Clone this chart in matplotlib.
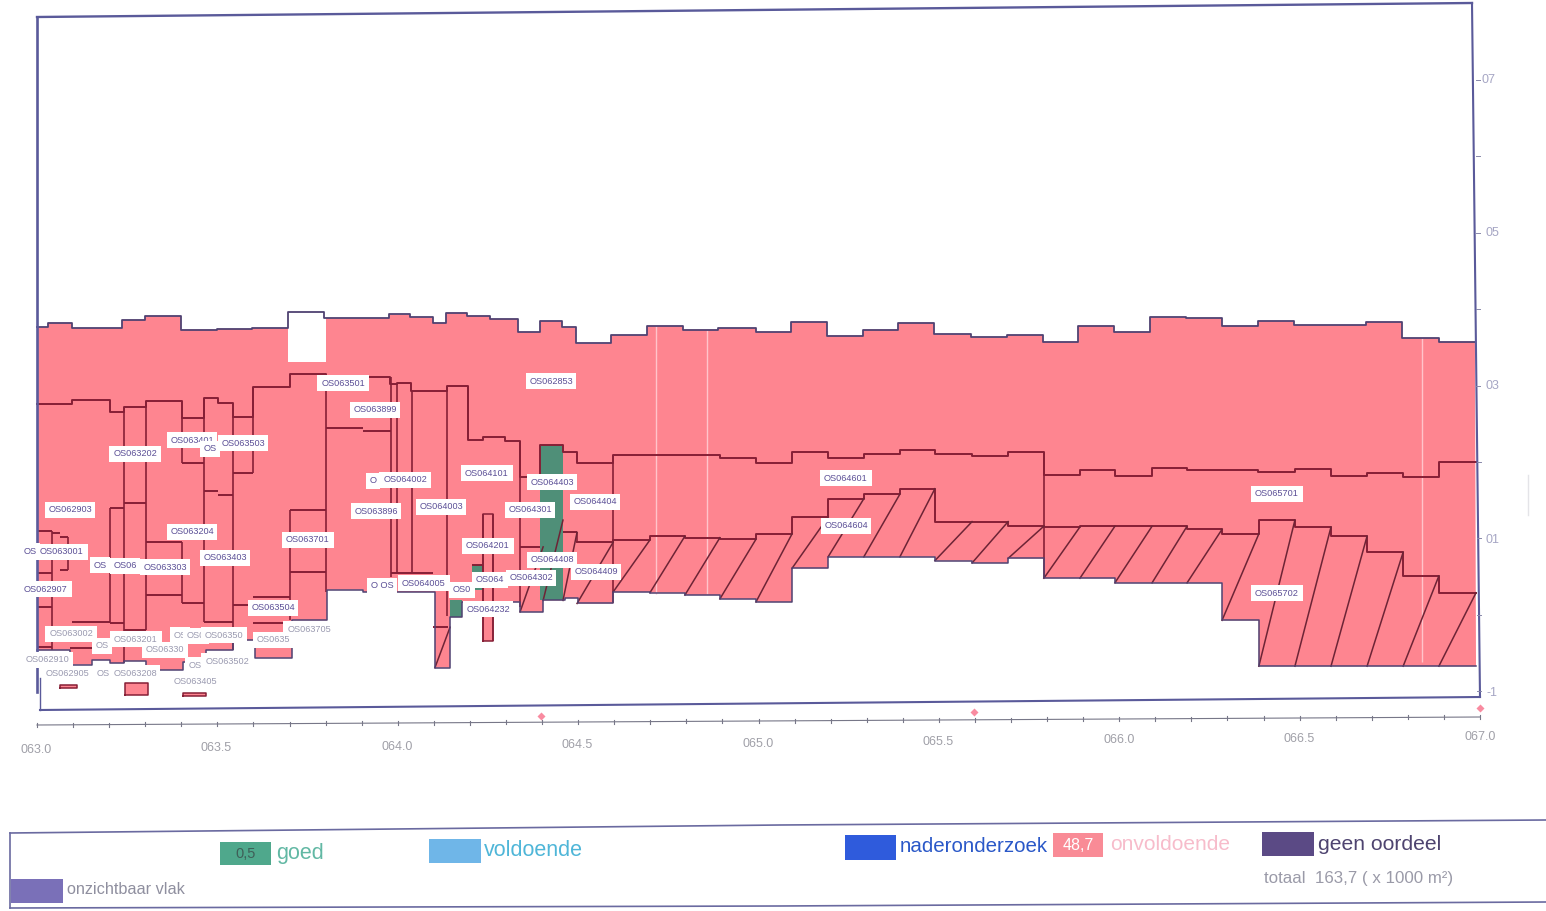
import numpy as np
import matplotlib
matplotlib.use('Agg')
import matplotlib.pyplot as plt
from matplotlib.lines import Line2D
from matplotlib.patches import Rectangle

plt.rcParams['font.family'] = ['Liberation Sans', 'DejaVu Sans']

# bovenkant / onderkant van het hele vlak (km, breedte in m)
top_km = [63.0, 63.03, 63.097, 63.236, 63.299, 63.399, 63.499, 63.596, 63.696, 63.796, 63.976, 64.034, 64.098,
          64.134, 64.192, 64.256, 64.333, 64.394, 64.455, 64.494, 64.591, 64.691, 64.791, 64.888, 64.993, 65.09,
          65.19, 65.29, 65.387, 65.487, 65.589, 65.689, 65.789, 65.886, 65.985, 66.085, 66.185, 66.285, 66.385,
          66.484, 66.684, 66.784, 66.886, 66.986]
top_val = [3.78, 3.84, 3.77, 3.88, 3.93, 3.75, 3.76, 3.77, 3.98, 3.90, 3.95, 3.91, 3.84, 3.97, 3.93, 3.89, 3.72,
           3.86, 3.78, 3.57, 3.68, 3.80, 3.75, 3.77, 3.72, 3.85, 3.67, 3.75, 3.84, 3.69, 3.65, 3.68, 3.59, 3.80,
           3.72, 3.91, 3.90, 3.80, 3.86, 3.81, 3.85, 3.64, 3.59]

bot_km = [63.0, 63.091, 63.152, 63.202, 63.241, 63.302, 63.405, 63.469, 63.543, 63.604, 63.707, 63.804, 63.904,
          64.103, 64.145, 64.178, 64.339, 64.403, 64.463, 64.499, 64.597, 64.699, 64.796, 64.893, 64.993, 65.093,
          65.193, 65.489, 65.592, 65.692, 65.791, 65.988, 66.285, 66.387, 66.989]
bot_val = [-0.44, -0.63, -0.57, -0.61, -0.58, -0.70, -0.60, -0.44, -0.31, -0.54, -0.05, 0.35, 0.32, -0.67, -0.01,
           0.19, 0.06, 0.21, 0.24, 0.17, 0.32, 0.31, 0.28, 0.23, 0.19, 0.63, 0.78, 0.73, 0.70, 0.76, 0.50, 0.44,
           -0.05, -0.65]

# tussenlijn tussen de rijstroken
mid_km = [63.0, 63.097, 63.202, 63.241, 63.302, 63.402, 63.463, 63.502, 63.543, 63.599, 63.701, 63.801, 63.978,
          63.998, 64.037, 64.137, 64.195, 64.236, 64.297, 64.339, 64.394, 64.458, 64.497, 64.597, 64.893, 64.993,
          65.093, 65.193, 65.292, 65.392, 65.489, 65.592, 65.692, 65.791, 65.891, 65.988, 66.091, 66.188, 66.385,
          66.487, 66.587, 66.687, 66.787, 66.886, 66.989]
mid_val = [2.78, 2.83, 2.67, 2.74, 2.82, 2.59, 2.86, 2.79, 2.61, 3.00, 3.17, 3.13, 3.04, 3.05, 2.95, 3.01, 2.31,
           2.35, 2.29, 1.82, 2.24, 2.15, 2.00, 2.11, 2.07, 2.01, 2.15, 2.07, 2.12, 2.18, 2.12, 2.10, 2.15, 1.85,
           1.91, 1.84, 1.94, 1.91, 1.89, 1.93, 1.84, 1.88, 1.82, 2.02]

# gearceerde vakken
arc_km = [64.339, 64.403, 64.458, 64.497, 64.597, 64.699, 64.796, 64.893, 64.993, 65.093, 65.193, 65.292, 65.392,
          65.489, 65.592, 65.692, 65.791, 65.891, 65.988, 66.091, 66.188, 66.285, 66.387, 66.487, 66.587, 66.687,
          66.787, 66.886, 66.989]
arc_top = [0.91, 1.26, 1.10, 0.97, 1.00, 1.05, 1.03, 1.01, 1.08, 1.30, 1.54, 1.60, 1.67, 1.24, 1.24, 1.18, 1.17,
           1.18, 1.18, 1.18, 1.14, 1.08, 1.26, 1.17, 1.05, 0.84, 0.53, 0.31]
arc_bot = [0.06, 0.21, 0.21, 0.17, 0.32, 0.31, 0.28, 0.23, 0.19, 0.63, 0.78, 0.78, 0.78, 0.73, 0.70, 0.76, 0.50,
           0.50, 0.44, 0.44, 0.44, -0.05, -0.65, -0.65, -0.65, -0.65, -0.65, -0.65]

# korte horizontale vaklijnen links
seg_x0 = [63.202, 63.241, 63.302, 63.402, 63.463, 63.502, 63.543, 63.701, 63.801, 63.904, 63.701, 63.302, 63.402,
          63.463, 63.543, 63.599, 63.097, 63.202, 63.241, 63.599, 63.0, 63.042, 63.064, 63.0, 63.064, 63.0, 63.0,
          63.091, 64.098, 64.206, 63.981, 64.339, 64.458]
seg_x1 = [63.241, 63.302, 63.402, 63.463, 63.502, 63.543, 63.599, 63.801, 63.904, 63.981, 63.801, 63.402, 63.463,
          63.543, 63.599, 63.701, 63.202, 63.241, 63.302, 63.707, 63.042, 63.064, 63.086, 63.042, 63.086, 63.042,
          63.042, 63.152, 64.139, 64.236, 64.098, 64.394, 64.497]
seg_y = [1.42, 1.48, 0.97, 2.01, 1.64, 1.59, 1.88, 1.39, 2.46, 2.42, 0.58, 0.28, 0.17, -0.07, 0.15, 0.25, -0.07,
         -0.09, -0.18, -0.09, 1.12, 1.09, 1.04, 0.57, 0.61, 0.12, -0.40, -0.41, -0.14, 0.67, 0.57, 0.91, 1.10]

# verticale vaklijnen
wand_x = [63.202, 63.241, 63.302, 63.402, 63.402, 63.463, 63.543, 63.599, 63.701, 63.801, 63.981, 63.998, 64.04,
          64.137, 64.195, 64.339, 64.597, 65.791, 63.042, 63.086, 64.264, 64.236, 64.497]
wand_top = [1.42, 2.67, 2.82, 2.59, 0.97, 2.86, 2.61, 3.00, 1.39, 3.17, 3.13, 3.05, 2.95, 3.01, 3.01, 2.29, 2.00,
            2.15, 1.12, 1.04, 1.34, 1.34, 1.10]
wand_bot = [-0.09, -0.61, -0.18, 2.01, 0.17, -0.07, -0.44, 1.88, -0.05, 0.32, 0.52, 0.57, 0.57, 0.01, 2.31, 0.12,
            0.17, 0.50, -0.44, 0.61, -0.32, -0.32, 0.97]

# losse rode vakken en groene (goed) vakken
los_x0 = [64.236, 63.244, 63.064, 63.405]
los_x1 = [64.264, 63.308, 63.11, 63.469]
los_top = [1.34, -0.87, -0.90, -1.0]
los_bot = [-0.32, -1.03, -0.94, -1.04]
goed_x0 = [64.394, 64.206, 64.145]
goed_x1 = [64.458, 64.236, 64.178]
goed_top = [2.24, 0.67, 0.21]
goed_bot = [0.21, 0.34, -0.01]

# roze meetpunten onder de grafiek
punt_km = [64.397, 65.597, 67.0]
punt_y = [-1.30, -1.25, -1.20]

x_ticklabels = ['063.0', '063.5', '064.0', '064.5', '065.0', '065.5', '066.0', '066.5', '067.0']
y_ticklabels = ['07', '05', '03', '01', '-1']

namen = ['OS063001', 'OS', 'OS062907', 'OS062903', 'OS063202', 'OS063401', 'OS', 'OS063503', 'OS063204', 'OS063403',
         'OS', 'OS06', 'OS063303', 'OS063701', 'OS063504', 'OS063705', 'OS063002', 'OS', 'OS063201', 'OS', 'OS06330',
         'OS0', 'OS06350', 'OS0635', 'OS', 'OS063502', 'OS062910', 'OS062905', 'OS', 'OS063208', 'OS063405',
         'OS063501', 'OS063899', 'OS062853', 'O', 'OS064002', 'OS063896', 'OS064003', 'OS064101', 'OS064201',
         'OS064301', 'OS064403', 'OS064404', 'O OS', 'OS064005', 'OS0', 'OS064', 'OS064232', 'OS064302', 'OS064408',
         'OS064409', 'OS064601', 'OS064604', 'OS065701', 'OS065702']
naam_px = [62, 30, 46, 70, 135, 192, 210, 243, 192, 225, 100, 125, 165, 308, 273, 309, 71, 102, 136, 180, 165, 196,
           224, 273, 195, 227, 47, 68, 103, 135, 195, 343, 375, 551, 373, 405, 376, 441, 487, 488, 530, 552, 595, 382,
           424, 462, 490, 488, 531, 552, 596, 846, 846, 1277, 1277]
naam_py = [552, 551, 589, 510, 454, 440, 449, 443, 532, 558, 565, 566, 567, 540, 608, 629, 634, 646, 639, 635, 650,
           636, 635, 640, 665, 661, 660, 674, 674, 673, 682, 383, 410, 381, 481, 480, 511, 507, 473, 546, 510, 482,
           502, 586, 583, 590, 580, 609, 578, 560, 572, 478, 526, 494, 593]

W, H = 1546, 911


def steps(edges, vals):
    """Maak een trappenlijn van vakgrenzen en waarden."""
    xs = np.repeat(edges, 2)[1:-1]
    ys = np.repeat(vals, 2)
    return xs, ys


def fx(x):
    return x / W


def fy(y):
    return 1 - y / H


def lijn(fig, xs, ys, color='#5a5a9a', lw=1.6, alpha=1.0):
    fig.add_artist(Line2D([fx(v) for v in xs], [fy(v) for v in ys], color=color, lw=lw, alpha=alpha,
                          transform=fig.transFigure))


def tekst(fig, x, y, s, **kw):
    fig.text(fx(x), fy(y), s, va='center', **kw)


def vak(fig, x0, y0, x1, y1, color):
    fig.add_artist(Rectangle((fx(x0), fy(y1)), (x1 - x0) / W, (y1 - y0) / H, facecolor=color, edgecolor='none',
                             transform=fig.transFigure))


RED = '#fe8590'
DARK = '#861f36'
EDGE = '#4f4272'
GREEN = '#4f8f78'

fig = plt.figure(figsize=(15.46, 9.11), dpi=100)
ax = fig.add_axes([0, 0, 1, 1])
ax.set_xlim(62.8974, 67.1830)
ax.set_ylim(-3.850, 8.0588)
ax.axis('off')

# hoofdvlak
xt, yt = steps(top_km, top_val)
xb, yb = steps(bot_km, bot_val)
ax.fill(np.r_[xt, xb[::-1]], np.r_[yt, yb[::-1]], color=RED, lw=0, zorder=1)
ax.fill_between([63.696, 63.801], 3.33, 3.98, color='white', lw=0, zorder=2)  # wit gat
for a, b, t, o in zip(los_x0, los_x1, los_top, los_bot):
    ax.fill_between([a, b], o, t, color=RED, lw=0, zorder=1)
for a, b, t, o in zip(goed_x0, goed_x1, goed_top, goed_bot):
    ax.fill_between([a, b], o, t, color=GREEN, lw=0, zorder=2)

# witte scanstrepen
ax.vlines([64.715, 64.857, 66.84], [0.3, 0.3, -0.6], [3.8, 3.75, 3.64], color='#ffc4cb', lw=1.0, zorder=2)

ax.plot(xt, yt, color=EDGE, lw=1.3, zorder=4)
ax.plot(xb, yb, color=EDGE, lw=1.1, zorder=4)
xm, ym = steps(mid_km, mid_val)
ax.plot(xm, ym, color=DARK, lw=1.4, zorder=3)
ax.hlines(seg_y, seg_x0, seg_x1, color=DARK, lw=1.4, zorder=3)
ax.vlines(wand_x, wand_bot, wand_top, color=DARK, lw=1.2, zorder=3)
for a, b, t, o in zip(los_x0, los_x1, los_top, los_bot):
    ax.plot([a, b, b, a, a], [o, o, t, t, o], color=DARK, lw=1.1, zorder=3)

xa, ya = steps(arc_km[3:], arc_top[3:])
ax.plot(xa, ya, color=DARK, lw=1.4, zorder=3)
for i in range(len(arc_top)):
    ax.plot([arc_km[i], arc_km[i + 1]], [arc_bot[i], arc_top[i]], color='#6d2436', lw=1.1, zorder=3)
ax.plot([64.103, 64.145], [-0.67, -0.14], color='#6d2436', lw=1.1, zorder=3)

ax.plot(punt_km, punt_y, 'D', color='#f98ba0', ms=4, mec='none', zorder=5)

# kader (licht scheef, het is een scan)
lijn(fig, [37, 1472], [17, 3], lw=1.7)
lijn(fig, [37, 37], [17, 692], lw=1.9)
lijn(fig, [40, 40], [678, 710], lw=1.0)
lijn(fig, [40, 1480], [710, 697], lw=1.5)
lijn(fig, [1472, 1476, 1480], [3, 350, 697], lw=1.5)
for k in range(9):
    lijn(fig, [1476 + k * 0.1, 1480 + k * 0.1], [80 + k * 76.4, 80 + k * 76.4], lw=0.7, color='#8888aa')

# km-as
lijn(fig, [37, 1480], [725, 717], color='#777788', lw=0.8)
for k in range(41):
    x = 37 + k * 36.075
    y = 725 - k * 0.2
    lijn(fig, [x, x], [y - 2, y + 2], color='#777788', lw=0.8)
for k, s in enumerate(x_ticklabels):
    tekst(fig, 36 + k * 180.5, 750 - k * 1.6, s, color='#a0a0a8', fontsize=9, ha='center')
for k, s in enumerate(y_ticklabels):
    tekst(fig, 1489 + min(k, 1) * 3, 80 + k * 153.2, s, color='#a6a6c4', fontsize=9, ha='center')
lijn(fig, [1528, 1528], [475, 515], color='#e4e4e8', lw=1.0)

# vaknamen
for n, x, y in zip(namen, naam_px, naam_py):
    kleur = '#9a9ab0' if y > 625 and x < 300 or n == 'OS063705' else '#5b4f96'
    tekst(fig, x, y, n, color=kleur, fontsize=6.6, ha='center',
          bbox=dict(boxstyle='square,pad=0.4', fc='white', ec='none'))

# legenda
lijn(fig, [10, 780, 1546], [833, 825, 820], color='#6a6aa0', lw=1.2)
lijn(fig, [10, 780, 1546], [908, 906, 902], color='#6a6aa0', lw=1.2)
lijn(fig, [10, 10], [833, 908], color='#6a6aa0', lw=1.2)
vak(fig, 220, 842, 271, 865, '#4fa88c')
tekst(fig, 246, 854, '0,5', color='#3f5f58', fontsize=10.5, ha='center')
tekst(fig, 276, 853, 'goed', color='#62b8a4', fontsize=15.5)
vak(fig, 429, 839, 481, 863, '#6fb6e8')
tekst(fig, 484, 851, 'voldoende', color='#4fb6d8', fontsize=15.5)
vak(fig, 845, 835, 896, 860, '#2f5bdc')
tekst(fig, 900, 847, 'naderonderzoek', color='#2a58c8', fontsize=14.8)
vak(fig, 1053, 833, 1103, 857, '#f98b96')
tekst(fig, 1078, 846, '48,7', color='white', fontsize=11.5, ha='center')
tekst(fig, 1110, 845, 'onvoldoende', color='#f7bccb', fontsize=15)
vak(fig, 1262, 832, 1314, 856, '#5b4a85')
tekst(fig, 1318, 844, 'geen oordeel', color='#4e4470', fontsize=15.2)
vak(fig, 11, 879, 63, 903, '#7a70b8')
tekst(fig, 67, 890, 'onzichtbaar vlak', color='#8f8f9f', fontsize=11.7)
tekst(fig, 1264, 878, 'totaal  163,7 ( x 1000 m²)', color='#9a9aa8', fontsize=12.2)

fig.savefig('out.png', dpi=100)
